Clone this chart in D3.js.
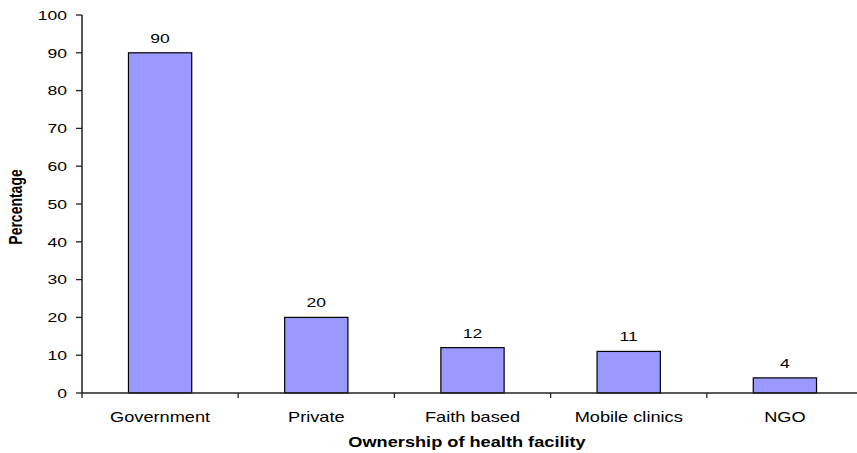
<!DOCTYPE html>
<html>
<head>
<meta charset="utf-8">
<script src="https://cdn.jsdelivr.net/npm/d3@7"></script>
<style>
  html, body { margin: 0; padding: 0; background: #fff; }
  svg { display: block; }
  text { font-family: "Liberation Sans", Arial, sans-serif; fill: #000; }
</style>
</head>
<body>
<script>
// Ownership of health facility, percentage of respondents
const categories = ["Government", "Private", "Faith based", "Mobile clinics", "NGO"];
const values = [90, 20, 12, 11, 4];
const yTicks = [0, 10, 20, 30, 40, 50, 60, 70, 80, 90, 100];
const xTitle = "Ownership of health facility";
const yTitle = "Percentage";

const W = 857, H = 453;
const plotLeft = 82, plotRight = 863, plotTop = 15, plotBottom = 393;
const sx = 1.3; // horizontal stretch applied to all lettering

const svg = d3.select("body").append("svg")
  .attr("width", W).attr("height", H);

const x = d3.scaleBand().domain(categories).range([plotLeft, plotRight]).padding(0);
const y = d3.scaleLinear().domain([0, 100]).range([plotBottom, plotTop]);
const barW = x.bandwidth() * 0.405;

// stretched text helper
function label(g, txt, px, py, opts = {}) {
  return g.append("text")
    .attr("transform", `translate(${px},${py}) scale(${sx},1)` + (opts.rotate ? ` rotate(${opts.rotate})` : ""))
    .attr("text-anchor", opts.anchor || "middle")
    .style("font-size", (opts.size || 13.5) + "px")
    .style("font-weight", opts.bold ? "bold" : "normal")
    .text(txt);
}

// bars
svg.append("g").selectAll("rect")
  .data(values)
  .join("rect")
  .attr("x", (d, i) => x(categories[i]) + (x.bandwidth() - barW) / 2)
  .attr("y", d => y(d))
  .attr("width", barW)
  .attr("height", d => y(0) - y(d))
  .attr("fill", "#9999FF")
  .attr("stroke", "#000")
  .attr("stroke-width", 1.2);

// value labels
const vl = svg.append("g");
values.forEach((d, i) => {
  label(vl, String(d), x(categories[i]) + x.bandwidth() / 2, y(d) - 10);
});

// y axis
const yAxis = svg.append("g");
yAxis.append("line")
  .attr("x1", plotLeft).attr("x2", plotLeft)
  .attr("y1", y(100)).attr("y2", y(0))
  .attr("stroke", "#222").attr("stroke-width", 1.5);
yTicks.forEach(t => {
  yAxis.append("line")
    .attr("x1", plotLeft - 6).attr("x2", plotLeft)
    .attr("y1", y(t)).attr("y2", y(t))
    .attr("stroke", "#222").attr("stroke-width", 1.3);
  label(yAxis, String(t), plotLeft - 15, y(t) + 4.8, { anchor: "end" });
});

// x axis
const xAxis = svg.append("g");
xAxis.append("line")
  .attr("x1", plotLeft).attr("x2", plotRight)
  .attr("y1", y(0)).attr("y2", y(0))
  .attr("stroke", "#222").attr("stroke-width", 1.5);
categories.forEach((c, i) => {
  xAxis.append("line")
    .attr("x1", x(c)).attr("x2", x(c))
    .attr("y1", y(0)).attr("y2", y(0) + 5)
    .attr("stroke", "#222").attr("stroke-width", 1.3);
  label(xAxis, c, x(c) + x.bandwidth() / 2, y(0) + 29, { size: 14 });
});

// axis titles
label(svg, xTitle, 467, 447, { bold: true, size: 14 });
label(svg, yTitle, 22, 207, { bold: true, size: 14, rotate: -90 });
</script>
</body>
</html>
